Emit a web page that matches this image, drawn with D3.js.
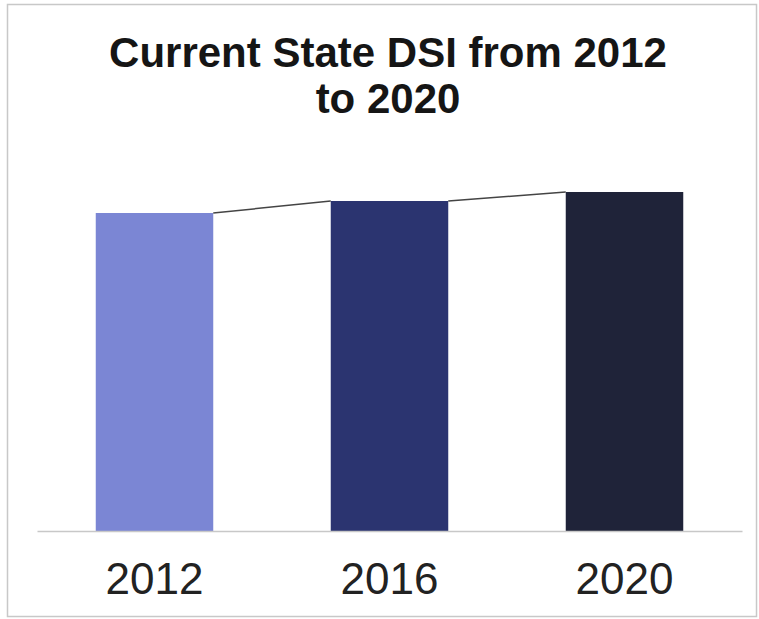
<!DOCTYPE html>
<html>
<head>
<meta charset="utf-8">
<script src="https://cdn.jsdelivr.net/npm/d3@7.9.0/dist/d3.min.js"></script>
<style>
  body { margin: 0; background: #fff; }
  svg { display: block; }
</style>
</head>
<body>
<svg id="chart" width="759" height="619"></svg>
<script>
// Data
const years = ["2012", "2016", "2020"];
const dsiValues = [3.18, 3.30, 3.39];
const barColors = ["#7b86d4", "#2b3470", "#1f2339"];
const titleLines = ["Current State DSI from 2012", "to 2020"];

const svg = d3.select("#chart");
const width = 759, height = 619;
const plot = { left: 37, right: 742, top: 131, bottom: 531 };

// frame
svg.append("rect")
    .attr("x", 7.5).attr("y", 4.5)
    .attr("width", 749).attr("height", 612)
    .attr("fill", "none")
    .attr("stroke", "#c8c8c8")
    .attr("stroke-width", 1.5);

const x = d3.scaleBand()
    .domain(years)
    .range([plot.left, plot.right])
    .paddingInner(0.5)
    .paddingOuter(0.25);

const y = d3.scaleLinear()
    .domain([0, 4])
    .range([plot.bottom, plot.top]);

// title
svg.append("text")
    .attr("x", 388).attr("y", 67)
    .attr("text-anchor", "middle")
    .attr("font-family", "Liberation Sans, Arial, sans-serif")
    .attr("font-weight", "bold")
    .attr("font-size", 42)
    .attr("fill", "#151515")
    .selectAll("tspan")
    .data(titleLines)
    .enter().append("tspan")
    .attr("x", 388)
    .attr("dy", (d, i) => i === 0 ? 0 : 46)
    .text(d => d);

// bars
svg.selectAll("rect.bar")
    .data(years)
    .enter().append("rect")
    .attr("class", "bar")
    .attr("x", d => x(d))
    .attr("y", (d, i) => y(dsiValues[i]))
    .attr("width", x.bandwidth())
    .attr("height", (d, i) => y(0) - y(dsiValues[i]))
    .attr("fill", (d, i) => barColors[i]);

// series lines between bars
const links = d3.pairs(years.map((d, i) => ({ year: d, value: dsiValues[i] })));
svg.selectAll("line.series")
    .data(links)
    .enter().append("line")
    .attr("class", "series")
    .attr("x1", d => x(d[0].year) + x.bandwidth())
    .attr("y1", d => y(d[0].value))
    .attr("x2", d => x(d[1].year))
    .attr("y2", d => y(d[1].value))
    .attr("stroke", "#444")
    .attr("stroke-width", 1.5);

// x axis
const xAxis = svg.append("g")
    .attr("transform", `translate(0, ${plot.bottom})`)
    .call(d3.axisBottom(x).tickSize(0).tickPadding(32));
xAxis.select(".domain").attr("stroke", "#c8c8c8").attr("stroke-width", 1.5);
xAxis.selectAll("text")
    .attr("font-family", "Liberation Sans, Arial, sans-serif")
    .attr("font-size", 44)
    .attr("fill", "#222");
</script>
</body>
</html>
